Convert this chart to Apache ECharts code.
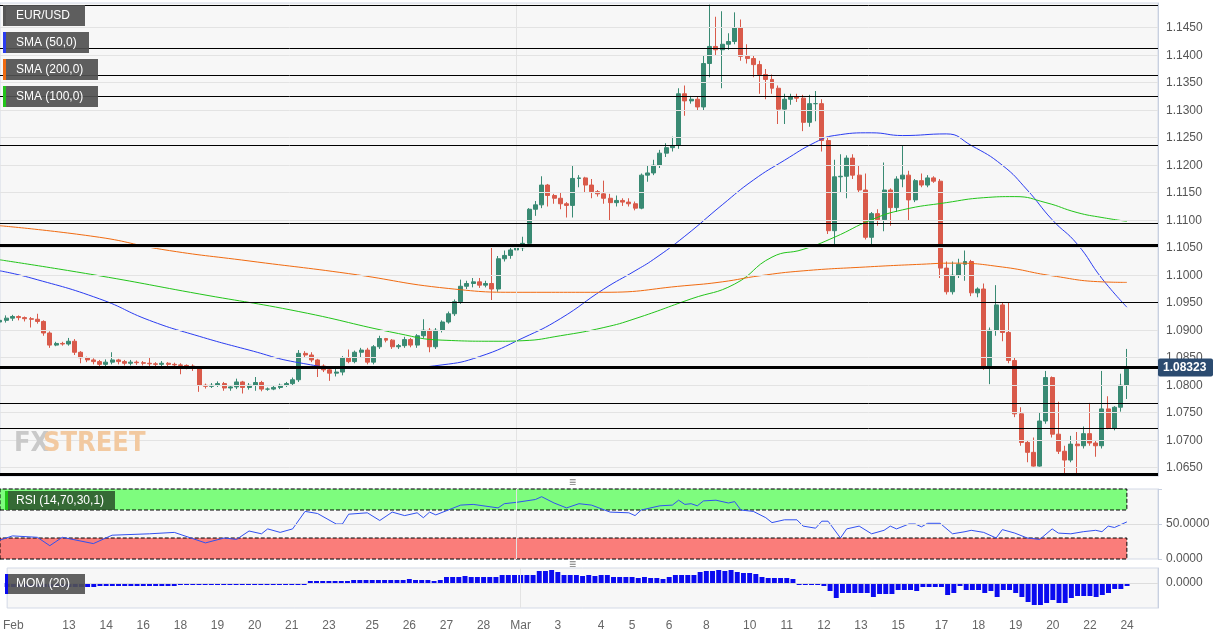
<!DOCTYPE html>
<html><head><meta charset="utf-8">
<script src="https://cdn.jsdelivr.net/npm/echarts@6/dist/echarts.min.js"></script>
<style>html,body{margin:0;padding:0;background:#fff}#c{width:1229px;height:633px}</style>
</head><body><div id="c"></div>
<script>
const dayLabels=['Feb','13','14','16','18','19','20','21','23','25','26','27','28','Mar','3','4','5','6','8','10','11','12','13','15','17','18','19','20','22','24'];
const dayLabelIdx=[1,10,16,22,28,34,40,46,52,59,65,71,77,83,89,96,101,107,113,120,126,132,138,144,151,157,163,169,175,181];
const priceTicks=[1.065,1.070,1.075,1.080,1.085,1.090,1.095,1.100,1.105,1.110,1.115,1.120,1.125,1.130,1.135,1.140,1.145];
const thinLevels=[1.1490,1.1412,1.1363,1.1325,1.1236,1.1095,1.0950,1.0767,1.0722];
const thickLevels=[1.1054,1.0832,1.0639];
const lastPrice=1.08323;
// [open, close, low, high]
const ohlc=[
[1.0915,1.0918,1.0890,1.0923],[1.0918,1.0922,1.0914,1.0927],[1.0922,1.0925,1.0917,1.0928],[1.0925,1.0923,1.0918,1.0927],
[1.0923,1.0921,1.0916,1.0925],[1.0921,1.0920,1.0905,1.0924],[1.0920,1.0916,1.0912,1.0930],[1.0916,1.0895,1.0890,1.0918],
[1.0895,1.0873,1.0868,1.0898],[1.0873,1.0876,1.0871,1.0879],[1.0876,1.0875,1.0872,1.0879],[1.0875,1.0880,1.0872,1.0886],
[1.0880,1.0860,1.0855,1.0884],[1.0860,1.0850,1.0840,1.0862],[1.0850,1.0846,1.0842,1.0852],[1.0846,1.0843,1.0838,1.0849],
[1.0843,1.0838,1.0833,1.0846],[1.0838,1.0842,1.0835,1.0847],[1.0842,1.0846,1.0838,1.0860],[1.0846,1.0843,1.0838,1.0848],
[1.0843,1.0840,1.0836,1.0846],[1.0840,1.0842,1.0836,1.0846],[1.0842,1.0841,1.0837,1.0845],[1.0841,1.0840,1.0836,1.0844],
[1.0840,1.0839,1.0835,1.0850],[1.0839,1.0838,1.0834,1.0842],[1.0838,1.0840,1.0834,1.0844],[1.0840,1.0838,1.0834,1.0842],
[1.0838,1.0837,1.0830,1.0841],[1.0837,1.0836,1.0820,1.0840],[1.0836,1.0835,1.0829,1.0838],[1.0835,1.0832,1.0826,1.0838],
[1.0832,1.0800,1.0788,1.0834],[1.0800,1.0798,1.0794,1.0803],[1.0798,1.0800,1.0795,1.0804],[1.0800,1.0803,1.0797,1.0807],
[1.0803,1.0795,1.0790,1.0806],[1.0795,1.0797,1.0790,1.0800],[1.0797,1.0806,1.0793,1.0812],[1.0806,1.0796,1.0785,1.0808],
[1.0796,1.0800,1.0792,1.0804],[1.0800,1.0805,1.0790,1.0815],[1.0805,1.0793,1.0789,1.0808],[1.0793,1.0793,1.0790,1.0796],
[1.0793,1.0796,1.0791,1.0799],[1.0796,1.0800,1.0793,1.0803],[1.0800,1.0803,1.0797,1.0806],[1.0803,1.0810,1.0799,1.0814],
[1.0810,1.0858,1.0806,1.0864],[1.0858,1.0855,1.0850,1.0862],[1.0855,1.0846,1.0842,1.0860],[1.0846,1.0835,1.0815,1.0848],
[1.0835,1.0828,1.0824,1.0838],[1.0828,1.0822,1.0808,1.0830],[1.0822,1.0824,1.0816,1.0834],[1.0824,1.0850,1.0818,1.0853],
[1.0850,1.0843,1.0840,1.0865],[1.0843,1.0860,1.0840,1.0863],[1.0860,1.0864,1.0850,1.0868],[1.0864,1.0842,1.0838,1.0868],
[1.0842,1.0870,1.0838,1.0873],[1.0870,1.0885,1.0866,1.0890],[1.0885,1.0882,1.0878,1.0886],[1.0882,1.0870,1.0866,1.0884],
[1.0870,1.0872,1.0866,1.0875],[1.0872,1.0883,1.0868,1.0888],[1.0883,1.0873,1.0869,1.0886],[1.0873,1.0890,1.0868,1.0893],
[1.0890,1.0900,1.0886,1.0920],[1.0900,1.0870,1.0860,1.0904],[1.0870,1.0900,1.0866,1.0904],[1.0900,1.0915,1.0896,1.0918],
[1.0915,1.0930,1.0912,1.0934],[1.0930,1.0952,1.0926,1.0956],[1.0952,1.0980,1.0948,1.0992],[1.0980,1.0985,1.0975,1.0990],
[1.0985,1.0988,1.0978,1.0995],[1.0988,1.0982,1.0977,1.0995],[1.0982,1.0985,1.0978,1.0990],[1.0985,1.0975,1.0955,1.1050],
[1.0975,1.1030,1.0970,1.1035],[1.1030,1.1036,1.1025,1.1045],[1.1036,1.1046,1.1030,1.1050],[1.1046,1.1050,1.1040,1.1080],
[1.1050,1.1058,1.1044,1.1070],[1.1058,1.1120,1.1055,1.1122],[1.1120,1.1128,1.1108,1.1135],[1.1128,1.1164,1.1122,1.1180],
[1.1164,1.1145,1.1125,1.1166],[1.1145,1.1140,1.1130,1.1148],[1.1140,1.1130,1.1120,1.1150],[1.1130,1.1127,1.1105,1.1133],
[1.1127,1.1176,1.1105,1.1200],[1.1176,1.1177,1.1160,1.1182],[1.1177,1.1164,1.1150,1.1179],[1.1164,1.1152,1.1140,1.1175],
[1.1152,1.1148,1.1143,1.1155],[1.1148,1.1140,1.1130,1.1172],[1.1140,1.1132,1.1100,1.1148],[1.1132,1.1136,1.1125,1.1145],
[1.1136,1.1133,1.1126,1.1140],[1.1133,1.1130,1.1125,1.1140],[1.1130,1.1122,1.1118,1.1134],[1.1122,1.1182,1.1120,1.1185],
[1.1182,1.1186,1.1170,1.1200],[1.1186,1.1200,1.1182,1.1210],[1.1200,1.1222,1.1195,1.1228],[1.1222,1.1232,1.1215,1.1240],
[1.1232,1.1236,1.1225,1.1252],[1.1236,1.1330,1.1230,1.1340],[1.1330,1.1317,1.1290,1.1345],[1.1317,1.1320,1.1312,1.1326],
[1.1320,1.1306,1.1300,1.1325],[1.1306,1.1385,1.1300,1.1400],[1.1385,1.1416,1.1360,1.1492],[1.1416,1.1410,1.1400,1.1470],
[1.1410,1.1420,1.1340,1.1480],[1.1420,1.1425,1.1410,1.1440],[1.1425,1.1450,1.1420,1.1478],[1.1450,1.1398,1.1390,1.1465],
[1.1398,1.1394,1.1385,1.1420],[1.1394,1.1383,1.1360,1.1400],[1.1383,1.1365,1.1330,1.1390],[1.1365,1.1356,1.1320,1.1375],
[1.1356,1.1340,1.1330,1.1365],[1.1340,1.1302,1.1275,1.1345],[1.1302,1.1320,1.1275,1.1330],[1.1320,1.1325,1.1310,1.1330],
[1.1325,1.1322,1.1315,1.1330],[1.1322,1.1278,1.1262,1.1328],[1.1278,1.1312,1.1270,1.1328],[1.1312,1.1312,1.1280,1.1335],
[1.1312,1.1245,1.1225,1.1320],[1.1245,1.1081,1.1075,1.1250],[1.1081,1.1179,1.1055,1.1210],[1.1179,1.1180,1.1150,1.1220],
[1.1180,1.1213,1.1140,1.1218],[1.1213,1.1182,1.1175,1.1220],[1.1182,1.1155,1.1150,1.1200],[1.1155,1.1069,1.1065,1.1185],
[1.1069,1.1112,1.1055,1.1115],[1.1112,1.1101,1.1090,1.1120],[1.1101,1.1155,1.1080,1.1205],[1.1155,1.1123,1.1090,1.1158],
[1.1123,1.1175,1.1115,1.1180],[1.1175,1.1182,1.1160,1.1236],[1.1182,1.1137,1.1100,1.1190],[1.1137,1.1172,1.1133,1.1175],
[1.1172,1.1164,1.1160,1.1185],[1.1164,1.1177,1.1160,1.1182],[1.1177,1.1171,1.1168,1.1180],[1.1171,1.1013,1.0995,1.1175],
[1.1013,1.0970,1.0965,1.1025],[1.0970,1.1000,1.0965,1.1025],[1.1000,1.1020,1.0995,1.1030],[1.1020,1.1025,1.0990,1.1045],
[1.1025,1.0968,1.0962,1.1028],[1.0968,1.0975,1.0960,1.0978],[1.0975,1.0831,1.0828,1.0985],[1.0831,1.0900,1.0802,1.0905],
[1.0900,1.0946,1.0890,1.0982],[1.0946,1.0896,1.0880,1.0950],[1.0896,1.0845,1.0840,1.0950],[1.0845,1.0748,1.0742,1.0850],
[1.0748,1.0696,1.0690,1.0760],[1.0696,1.0678,1.0660,1.0700],[1.0678,1.0653,1.0652,1.0705],[1.0653,1.0735,1.0652,1.0750],
[1.0735,1.0814,1.0730,1.0826],[1.0814,1.0711,1.0705,1.0816],[1.0711,1.0680,1.0675,1.0770],[1.0680,1.0664,1.0638,1.0690],
[1.0664,1.0693,1.0660,1.0708],[1.0693,1.0690,1.0640,1.0715],[1.0690,1.0712,1.0685,1.0725],[1.0712,1.0695,1.0690,1.0768],
[1.0695,1.0690,1.0670,1.0700],[1.0690,1.0757,1.0685,1.0826],[1.0757,1.0722,1.0720,1.0780],[1.0722,1.0760,1.0718,1.0762],
[1.0760,1.0800,1.0752,1.0821],[1.0800,1.0832,1.0775,1.0866]
];
const sma50=[[0,1.1008],[5,1.0995],[16,1.0957],[24,1.0918],[32,1.0889],[40,1.0864],[48,1.0841],[56,1.0832],[64,1.0832],[71,1.0837],[77,1.0852],[84,1.0886],[90,1.0921],[97,1.0975],[102,1.1008],[105,1.1029],[110,1.1071],[116,1.1128],[121,1.1173],[126,1.1209],[131,1.1242],[134,1.1254],[140,1.1259],[145,1.1254],[152,1.1257],[156,1.1236],[161,1.1200],[165,1.1155],[169,1.1101],[173,1.1057],[177,1.0994],[181,1.0942]];
const sma100=[[0,1.1028],[16,1.0999],[32,1.0966],[48,1.0934],[64,1.0894],[71,1.0882],[80,1.0880],[84,1.0881],[90,1.0890],[97,1.0905],[102,1.0921],[111,1.0957],[118,1.0984],[124,1.1033],[129,1.1047],[134,1.1069],[140,1.1101],[145,1.1119],[152,1.1132],[158,1.1141],[163,1.1143],[168,1.1132],[173,1.1114],[177,1.1105],[181,1.1098]];
const sma200=[[0,1.1090],[16,1.1069],[26,1.1047],[40,1.1026],[56,1.1003],[72,1.0976],[84,1.0969],[97,1.0969],[110,1.0981],[116,1.0988],[122,1.0999],[129,1.1008],[139,1.1015],[148,1.1020],[153,1.1022],[161,1.1015],[169,1.0999],[177,1.0988],[181,1.0987]];
const rsi=[[0,27],[2,33],[6,31],[8,19],[10,31],[15,22],[18,34],[24,36],[28,38],[33,23],[36,30],[38,28],[40,40],[42,36],[43,43],[45,38],[47,43],[49,68],[51,65],[54,50],[55,50],[56,64],[59,66],[61,55],[63,67],[65,62],[67,66],[68,59],[69,67],[70,63],[74,77],[76,78],[80,73],[81,79],[83,81],[86,85],[87,89],[89,80],[91,73],[93,79],[95,77],[98,67],[101,66],[102,62],[103,70],[106,76],[108,77],[109,84],[110,78],[111,79],[112,76],[113,83],[115,84],[117,80],[118,82],[119,70],[121,68],[123,59],[124,52],[126,56],[128,56],[129,47],[131,44],[132,54],[133,54],[135,30],[136,43],[138,47],[140,36],[142,41],[143,47],[144,43],[146,50],[147,50],[148,46],[149,51],[151,51],[153,36],[155,39],[156,41],[158,38],[160,30],[161,42],[163,37],[165,30],[167,28],[169,43],[170,37],[172,36],[174,39],[176,41],[177,39],[178,47],[179,45],[181,53]];
const mom=[-4,-4,-4,-4,-4,-4,-4,-4,-4,-4,-4,-4,-4,-4,-4,-3,-3,-3,-3,-3,-3,-3,-3,-3,-3,-3,-3,-3,-2,-2,
-2,-2,-2,-2,-2,-2,-2,-2,-2,-2,-2,-2,-2,-2,-2,-2,-2,-2,-2,2,2,2,2,2,2,2,3,3,3,3,
3,3,3,3,3,4,3,3,3,2,3,6,6,6,7,6,6,6,6,6,8,8,8,8,8,8,12,12,13,11,
8,8,8,7,8,7,8,8,6,6,6,6,5,6,5,5,4,6,8,8,8,8,11,12,12,13,12,13,11,10,
10,9,6,5,5,5,5,4,-2,-2,-2,-2,-3,-8,-15,-10,-10,-10,-10,-10,-14,-11,-11,-11,-7,-7,-7,-8,-4,-4,
-4,-4,-12,-10,-3,-7,-7,-7,-10,-8,-14,-7,-7,-10,-14,-19,-22,-22,-20,-17,-20,-20,-15,-13,-13,-13,-14,-12,-10,-6,
-6,-3];
const nCat=187;
const cats=[];for(let i=0;i<nCat;i++){const k=dayLabelIdx.indexOf(i);cats.push(k>=0?dayLabels[k]:'');}
const UP='#398a73',DN='#d95a4a';
const chart=echarts.init(document.getElementById('c'));
const fmt=v=>{const r=Math.round(v*10000);return r%50===0?(r/10000).toFixed(4):'';};
const xBase=(gi,show)=>({type:'category',gridIndex:gi,data:cats,boundaryGap:false,axisLine:{show:false},axisTick:{show:false},splitLine:{show:false},
  axisLabel:{show:show,interval:0,color:'#666',fontSize:12,fontFamily:'Arial, Liberation Sans',margin:12,formatter:v=>v}});
const lvl=(arr,w)=>arr.map(v=>({yAxis:v,lineStyle:{color:'#000',width:w,type:'solid'}}));
chart.setOption({
  animation:false,backgroundColor:'#fff',
  grid:[
    {left:0,top:3,width:1158,height:473,show:true,backgroundColor:'#f7f7f7',borderColor:'#d3d9e6'},
    {left:0,top:489,width:1158,height:70,show:true,backgroundColor:'#f7f7f7',borderColor:'#d3d9e6'},
    {left:0,top:568,width:1158,height:40,show:true,backgroundColor:'#f7f7f7',borderColor:'#d3d9e6'}
  ],
  xAxis:[xBase(0,false),xBase(1,false),xBase(2,true)],
  yAxis:[
    {type:'value',gridIndex:0,position:'right',min:1.0635,max:1.1495,interval:0.0005,
     axisLine:{show:true,lineStyle:{color:'#c8d0e0'}},axisTick:{show:false},splitLine:{show:false},
     axisLabel:{color:'#555',fontSize:12,fontFamily:'Arial, Liberation Sans',margin:8,formatter:fmt}},
    {type:'value',gridIndex:1,position:'right',min:0,max:100,interval:50,
     axisLine:{show:true,lineStyle:{color:'#c8d0e0'}},axisTick:{show:true,length:4},splitLine:{show:false},
     axisLabel:{color:'#555',fontSize:12,fontFamily:'Arial, Liberation Sans',margin:8,formatter:v=>v===50||v===0?v.toFixed(4):''}},
    {type:'value',gridIndex:2,position:'right',min:-25,max:15,interval:5,
     axisLine:{show:true,lineStyle:{color:'#c8d0e0'}},axisTick:{show:false},splitLine:{show:false},
     axisLabel:{color:'#555',fontSize:12,fontFamily:'Arial, Liberation Sans',margin:8,formatter:v=>v===0?'0.0000':''}}
  ],
  series:[
    {type:'line',xAxisIndex:0,yAxisIndex:0,data:[],silent:true,
     markLine:{silent:true,symbol:'none',precision:6,label:{show:false},
       data:priceTicks.map(v=>({yAxis:v,lineStyle:{color:'#e3e3e3',width:1,type:'solid'}})).concat([{xAxis:83,lineStyle:{color:'#e3e3e3',width:1,type:'solid'}}])}},
    {type:'candlestick',xAxisIndex:0,yAxisIndex:0,barWidth:'72%',
     data:ohlc,itemStyle:{color:UP,color0:DN,borderColor:UP,borderColor0:DN,borderWidth:1},
     markLine:{silent:true,symbol:'none',precision:6,label:{show:false},data:lvl(thinLevels,1).concat(lvl(thickLevels,3))}},
    {type:'line',name:'SMA50',xAxisIndex:0,yAxisIndex:0,data:sma50,smooth:true,showSymbol:false,lineStyle:{color:'#2a3cf0',width:1}},
    {type:'line',name:'SMA100',xAxisIndex:0,yAxisIndex:0,data:sma100,smooth:true,showSymbol:false,lineStyle:{color:'#22c41a',width:1}},
    {type:'line',name:'SMA200',xAxisIndex:0,yAxisIndex:0,data:sma200,smooth:true,showSymbol:false,lineStyle:{color:'#f06a10',width:1}},
    {type:'line',xAxisIndex:1,yAxisIndex:1,data:rsi,showSymbol:false,lineStyle:{color:'#3050f0',width:1},
     markArea:{silent:true,data:[
       [{xAxis:0,yAxis:70,itemStyle:{color:'#7efc7e',borderColor:'#000',borderWidth:1,borderType:'dashed'}},{xAxis:181,yAxis:100}],
       [{xAxis:0,yAxis:0,itemStyle:{color:'#fa7d7a',borderColor:'#000',borderWidth:1,borderType:'dashed'}},{xAxis:181,yAxis:30}]]},
     markLine:{silent:true,symbol:'none',label:{show:false},data:[{yAxis:50,lineStyle:{color:'#dddddd',type:'solid',width:1}},{xAxis:83,lineStyle:{color:'#e3e3e3',type:'solid',width:1}}]}},
    {type:'bar',xAxisIndex:2,yAxisIndex:2,data:mom,barWidth:'80%',barMinHeight:2,itemStyle:{color:'#0a0af0'},
     markLine:{silent:true,symbol:'none',label:{show:false},data:[{yAxis:0,lineStyle:{color:'#dddddd',type:'solid',width:1}},{xAxis:83,lineStyle:{color:'#e3e3e3',type:'solid',width:1}}]}}
  ]
});
const yp=chart.convertToPixel({xAxisIndex:0,yAxisIndex:0},[0,lastPrice])[1];
const box=(y,w,txt,stripe,bg)=>[
  {type:'rect',shape:{x:3,y:y,width:w,height:21},style:{fill:bg||'rgba(80,80,80,0.92)'},z:100},
  {type:'rect',shape:{x:3,y:y,width:3,height:21},style:{fill:stripe},z:101},
  {type:'text',x:16,y:y+5,style:{text:txt,fill:'#fff',font:'12px Arial, Liberation Sans'},z:102}];
chart.setOption({graphic:[].concat(
  box(5,82,'EUR/USD','#555'),box(32,86,'SMA (50,0)','#2a3cf0'),box(59,95,'SMA (200,0)','#f06a10'),box(86,95,'SMA (100,0)','#22c41a'),
  [{type:'rect',shape:{x:5,y:491,width:110,height:19},style:{fill:'rgba(40,80,40,0.85)'},z:100},
   {type:'rect',shape:{x:5,y:491,width:3,height:19},style:{fill:'#22c41a'},z:101},
   {type:'text',x:16,y:495,style:{text:'RSI (14,70,30,1)',fill:'#fff',font:'12px Arial, Liberation Sans'},z:102},
   {type:'rect',shape:{x:5,y:574,width:80,height:20},style:{fill:'rgba(80,80,80,0.9)'},z:100},
   {type:'rect',shape:{x:5,y:574,width:3,height:20},style:{fill:'#0a0af0'},z:101},
   {type:'text',x:16,y:578,style:{text:'MOM (20)',fill:'#fff',font:'12px Arial, Liberation Sans'},z:102},
   {type:'text',x:14,y:430,style:{text:'FX',fill:'#c9c9c9',font:'bold 27px "Liberation Sans Narrow", "DejaVu Sans Condensed", Arial'},z:5},
   {type:'text',x:43,y:430,style:{text:'STREET',fill:'#f2c9a0',font:'bold 27px "Liberation Sans Narrow", "DejaVu Sans Condensed", Arial'},z:5},
   {type:'rect',shape:{x:1158,y:yp-9,width:55,height:18,r:2},style:{fill:'#2b4b70'},z:100},
   {type:'text',x:1163,y:yp-6,style:{text:lastPrice.toFixed(5),fill:'#fff',font:'bold 12px Arial, Liberation Sans'},z:101},
   {type:'text',x:569,y:477,style:{text:'≡',fill:'#777',font:'12px Arial'},z:50},
   {type:'text',x:569,y:559,style:{text:'≡',fill:'#777',font:'12px Arial'},z:50}]
)});
</script></body></html>
